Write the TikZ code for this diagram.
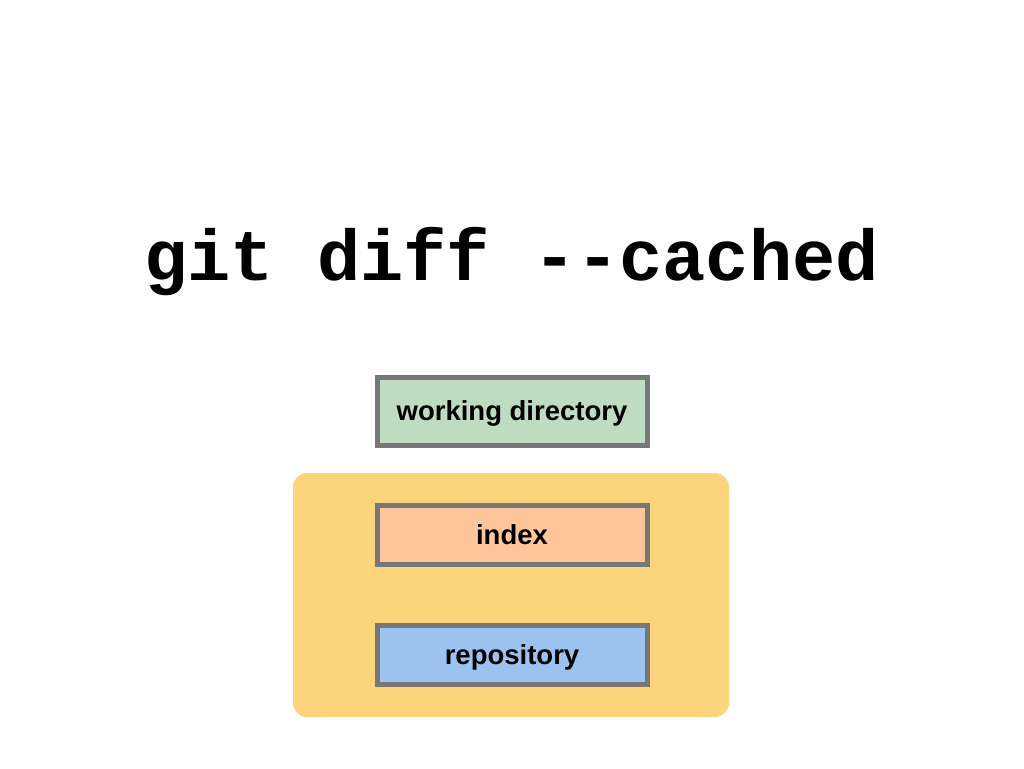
\documentclass[tikz,border=0pt]{standalone}
\usepackage{fontspec}
\setmainfont{Liberation Sans}
\newfontfamily\codefont{Liberation Mono}
\definecolor{wdfill}{HTML}{C0DCC0}
\definecolor{idxfill}{HTML}{FFC69C}
\definecolor{repofill}{HTML}{9CC3EE}
\definecolor{areafill}{HTML}{FCD47C}
\definecolor{boxborder}{HTML}{777777}
\tikzset{
  stagebox/.style={draw=boxborder, line width=5pt, minimum width=270pt, inner sep=0pt,
    text height=22pt, text depth=3pt,
    font=\fontsize{27.5}{31}\selectfont\bfseries, text=black},
}
\begin{document}
\begin{tikzpicture}[x=1pt,y=-1pt]
\useasboundingbox[fill=white] (0,0) rectangle (1024,768);
\node[anchor=base, font=\codefont\fontsize{72}{80}\selectfont\bfseries] (title) at (511.5,280) {git diff --cached};
\fill[areafill, rounded corners=14pt] (293,473) rectangle (729,717);
\node[stagebox, fill=wdfill, minimum height=68pt] (wd) at (512,411) {working directory};
\node[stagebox, fill=idxfill, minimum height=59pt] (idx) at (512,534.5) {index};
\node[stagebox, fill=repofill, minimum height=59pt] (repo) at (512,654.5) {repository};
\end{tikzpicture}
\end{document}
